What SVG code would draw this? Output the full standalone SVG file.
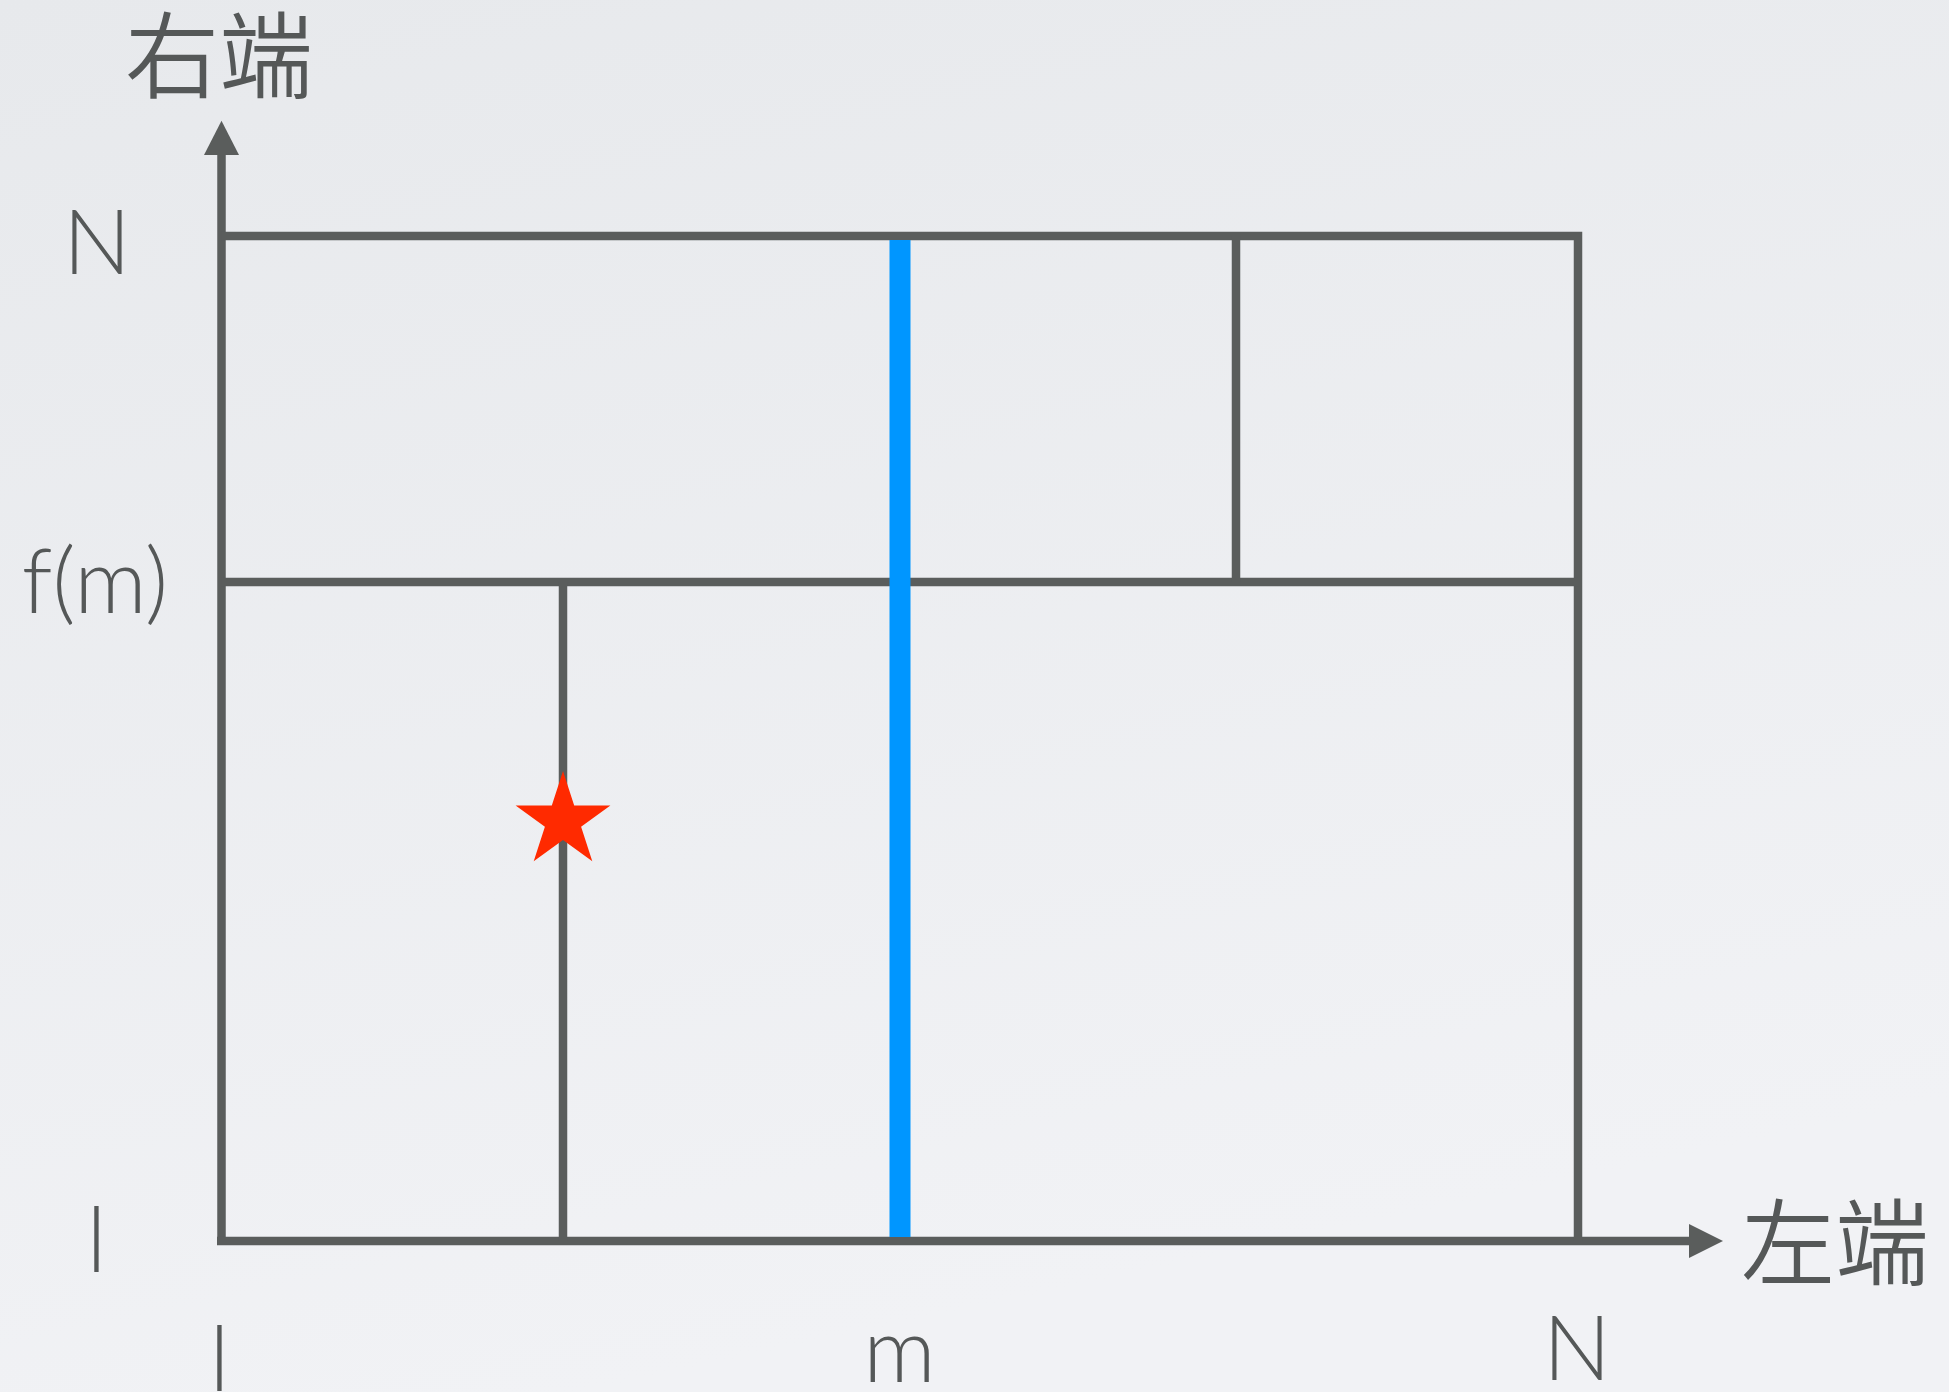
<svg xmlns="http://www.w3.org/2000/svg" width="1949" height="1392" viewBox="0 0 1949 1392">
<style>
.ln{stroke:#5a5d5c;stroke-width:8.5;fill:none;stroke-linecap:butt}
.lbl{font-family:Lato,"Open Sans","Liberation Sans",sans-serif;font-weight:300;font-size:90px;fill:#555858;text-anchor:middle}
.cjk{font-family:"Noto Sans CJK SC","Noto Sans CJK JP",sans-serif;font-weight:350;font-size:94px;fill:#555858}
</style>
<defs>
<linearGradient id="bg" x1="0" y1="0" x2="0.3" y2="1">
<stop offset="0" stop-color="#e7e9ec"/>
<stop offset="1" stop-color="#f1f2f5"/>
</linearGradient>
</defs>
<rect x="0" y="0" width="1949" height="1392" fill="url(#bg)"/>
<g id="connectors">
<line class="ln" x1="221.5" y1="1245" x2="221.5" y2="150"/>
<polygon points="221.5,120.7 204,155 239,155" fill="#5a5d5c"/>
<line class="ln" x1="217" y1="1241" x2="1695" y2="1241"/>
<polygon points="1723,1241 1689,1224 1689,1258" fill="#5a5d5c"/>
<polyline class="ln" points="221.5,236 1578,236 1578,1241"/>
<line class="ln" x1="221.5" y1="582" x2="1578" y2="582"/>
<line class="ln" x1="1236" y1="236" x2="1236" y2="582"/>
<line class="ln" x1="563" y1="582" x2="563" y2="1241"/>
<line id="blue" x1="900" y1="240" x2="900" y2="1237" stroke="#0096ff" stroke-width="21"/>
</g>
<g id="star">
<polygon fill="#ff2a00" points="563,771 574.2,805.5 610.4,805.5 581.1,826.8 592.3,861.2 563,839.9 533.7,861.2 544.9,826.8 515.6,805.5 551.8,805.5"/>
</g>
<g id="labels">
<text class="cjk" x="125" y="91">右端</text>
<text class="cjk" x="1741" y="1278">左端</text>
<text class="lbl" x="97" y="274">N</text>
<text class="lbl" x="95" y="613">f(m)</text>
<text class="lbl" x="96.5" y="1272">l</text>
<text class="lbl" x="219.5" y="1391">l</text>
<text class="lbl" x="899.5" y="1382">m</text>
<text class="lbl" x="1577" y="1380">N</text>
</g>
</svg>
